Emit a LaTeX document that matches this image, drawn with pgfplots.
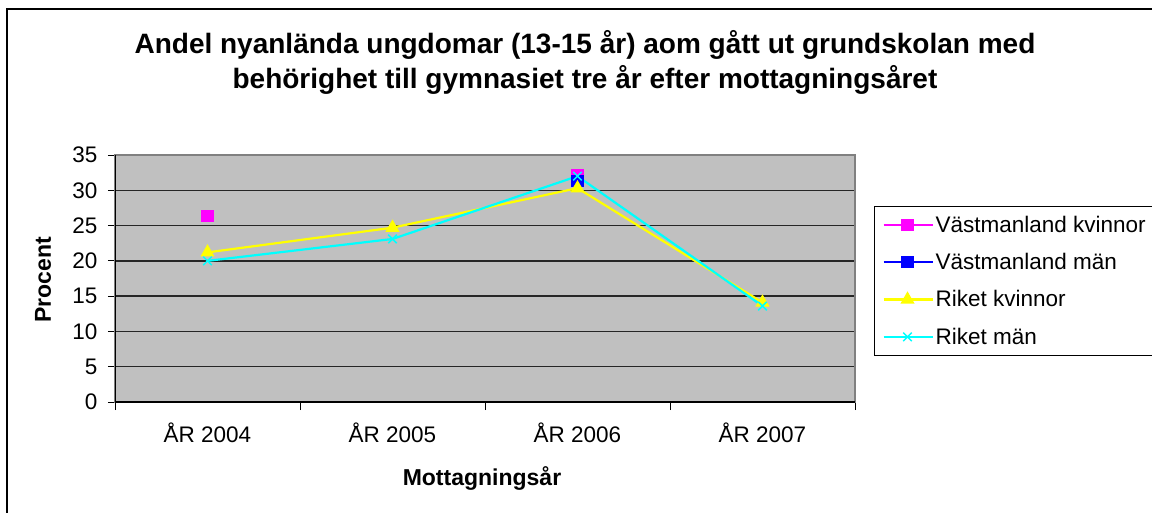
\documentclass[border=0pt]{standalone}
\usepackage{fontspec}
\setmainfont{Liberation Sans}
\usepackage{pgfplots}
\pgfplotsset{compat=1.18}
\definecolor{plotgray}{RGB}{192,192,192}
\definecolor{framegray}{RGB}{128,128,128}
\definecolor{vkv}{RGB}{255,0,255}
\definecolor{vman}{RGB}{0,0,255}
\definecolor{rkv}{RGB}{255,255,0}
\definecolor{rman}{RGB}{0,255,255}

\newcommand{\lbl}{\fontsize{22.5}{26}\selectfont}

\begin{document}
\begin{tikzpicture}[x=1pt,y=1pt]
\begin{axis}[
    at={(115pt,110pt)}, anchor=south west,
    scale only axis, width=740pt, height=247pt,
    xmin=-0.5, xmax=3.5, ymin=0, ymax=35,
    ytick={0,5,...,35},
    xtick={0,1,2,3},
    xticklabels={ÅR 2004, ÅR 2005, ÅR 2006, ÅR 2007},
    minor xtick={-0.5,0.5,1.5,2.5,3.5},
    xtick pos=bottom, ytick pos=left,
    tick align=outside,
    major x tick style={draw=none},
    major tick length=7pt, minor tick length=8pt,
    every tick/.style={black, line width=1pt},
    x tick label style={yshift=-10pt},
    y tick label style={xshift=-7pt},
    ticklabel style={font=\lbl},
    /pgf/number format/assume math mode=true,
    ymajorgrids, grid style={black!85, line width=1.3pt},
    axis background/.style={fill=plotgray},
    axis line style={framegray, line width=1.5pt},
    unbounded coords=jump,
    legend style={at={(1.0257,0.795)}, anchor=north west, draw=black,
      fill=white, line width=0.8pt, font=\lbl, row sep=15.5pt,
      inner xsep=8pt, inner ysep=8pt},
    legend cell align=left,
    legend image code/.code={
      \draw[mark repeat=2,mark phase=2] plot coordinates {(0pt,0pt) (24pt,0pt) (49pt,0pt)};},
    every axis plot/.append style={line width=2.2pt},
]
\addplot[vkv, mark=square*, mark size=5pt] coordinates {(0,26.3) (1,nan) (2,32.2) (3,nan)};
\addplot[vman, mark=square*, mark size=5pt] coordinates {(0,nan) (1,nan) (2,31.3) (3,nan)};
\addplot[rkv, mark=triangle*, mark size=6pt] coordinates {(0,21.2) (1,24.7) (2,30.3) (3,14.1)};
\addplot[rman, mark=x, mark size=6pt, mark options={line width=1.5pt}] coordinates {(0,20.0) (1,23.1) (2,32.0) (3,13.6)};
\legend{Västmanland kvinnor, Västmanland män, Riket kvinnor, Riket män}
\draw[black, line width=1.5pt] (rel axis cs:0,1) -- (rel axis cs:0,0) -- (rel axis cs:1,0);
\end{axis}
\node[font=\fontsize{28}{32}\selectfont\bfseries] at (585,467) {Andel nyanlända ungdomar (13-15 år) aom gått ut grundskolan med};
\node[font=\fontsize{28}{32}\selectfont\bfseries] at (585,432) {behörighet till gymnasiet tre år efter mottagningsåret};
\node[font=\fontsize{23}{27}\selectfont\bfseries, rotate=90] at (43,232) {Procent};
\node[font=\fontsize{23}{27}\selectfont\bfseries] at (482,34) {Mottagningsår};
\draw[black, line width=1.5pt] (7,-20) -- (7,503) -- (1200,503);
\pgfresetboundingbox
\path[use as bounding box] (0,0) rectangle (1152,512);
\end{tikzpicture}
\end{document}
